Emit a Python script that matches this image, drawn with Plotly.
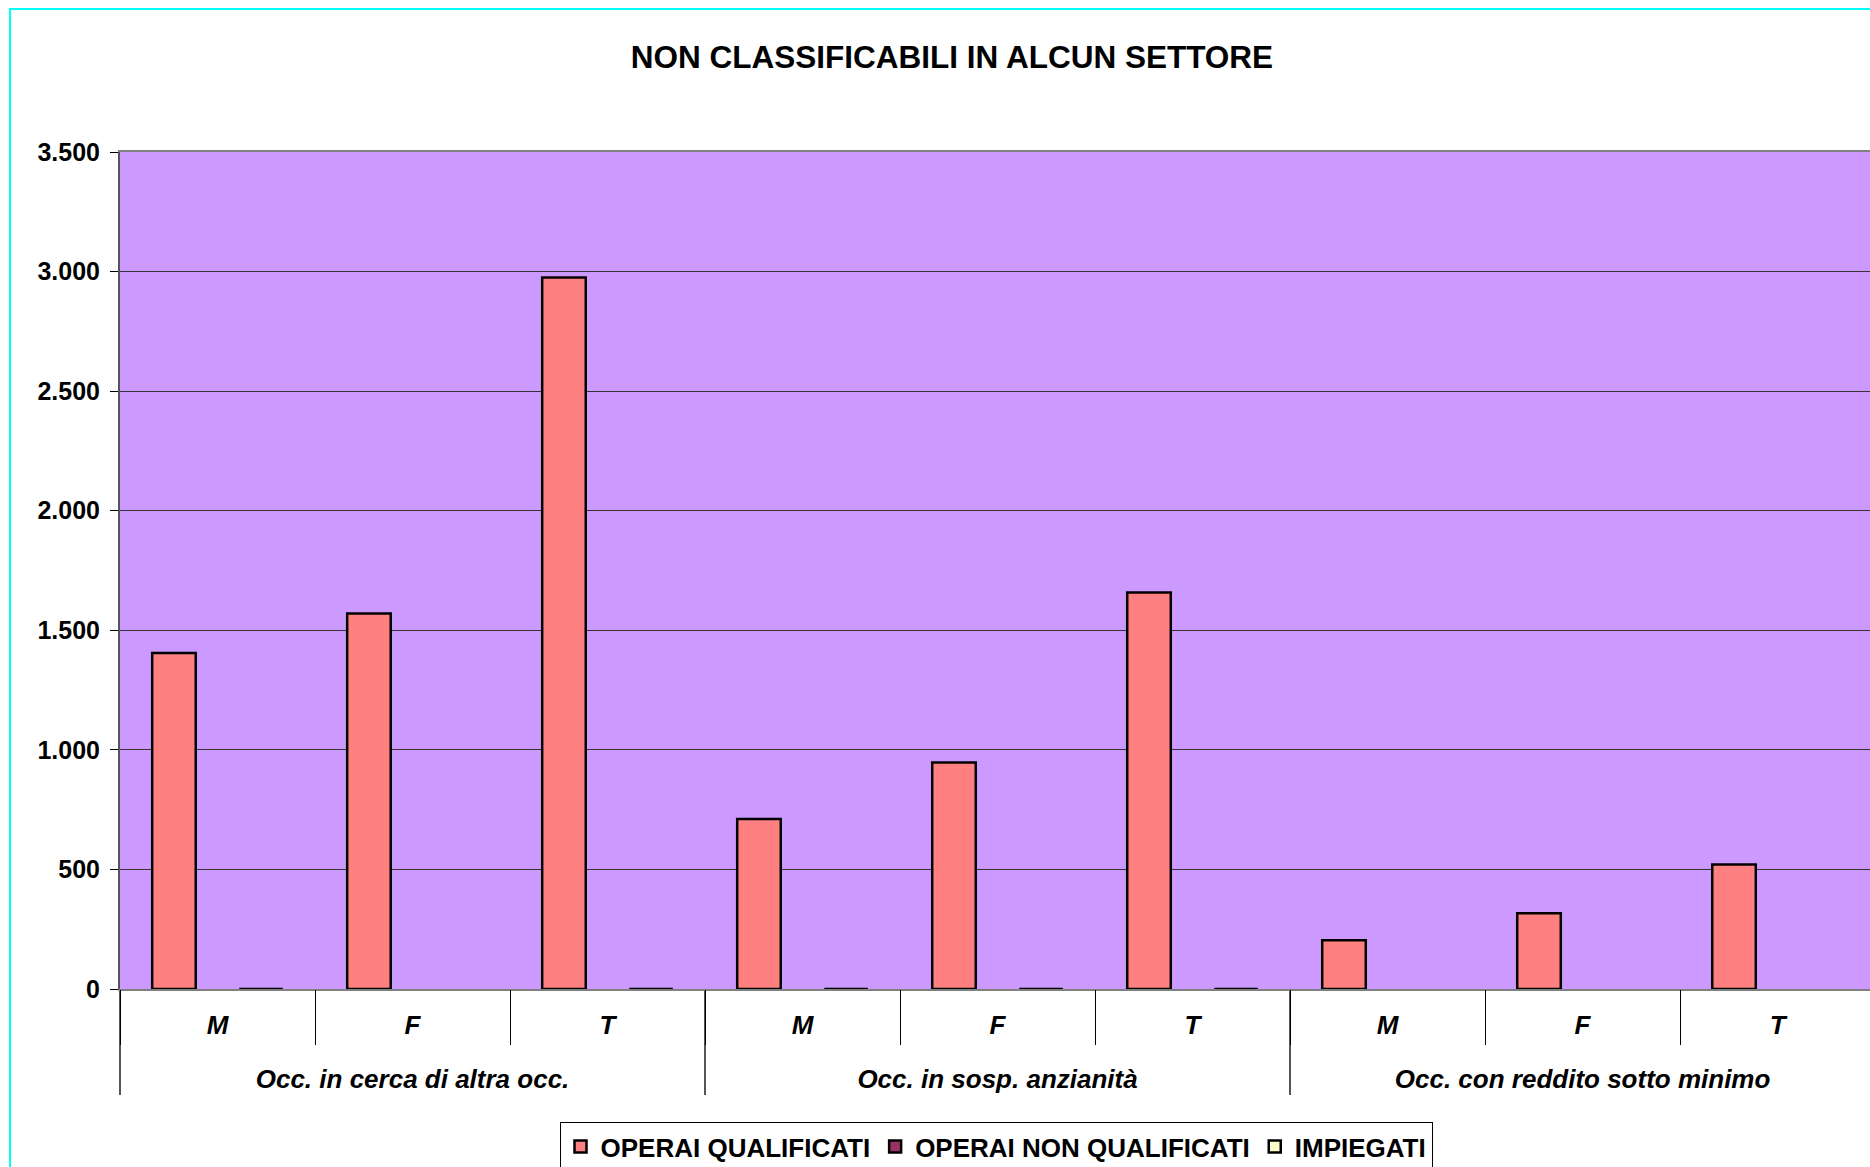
import plotly.graph_objects as go

# ---- data ----
groups = ["Occ. in cerca di altra occ.", "Occ. in sosp. anzianità", "Occ. con reddito sotto minimo"]
sexes = ["M", "F", "T"]
outer = [g for g in groups for _ in sexes]
inner = sexes * len(groups)

series_names = ["OPERAI QUALIFICATI", "OPERAI NON QUALIFICATI", "IMPIEGATI"]
operai_qualificati = [1405, 1570, 2975, 711, 947, 1658, 204, 317, 521]
operai_non_qualificati = [None, None, None, None, None, None, None, None, None]
impiegati = [0, None, 0, 0, 0, 0, None, None, None]
series_values = [operai_qualificati, operai_non_qualificati, impiegati]
series_colors = ["#FF8080", "#993366", "#FFFFCC"]

y_ticks = [0, 500, 1000, 1500, 2000, 2500, 3000, 3500]

FONT = "Liberation Sans, Arial, sans-serif"
W, H = 1870, 1167
ML, MT, MB = 120, 152, 178
PW, PH = W - ML, H - MT - MB

# inner labels get an empty second line so the outer level sits lower
inner_lbl = [s + "<br>\u00a0" for s in inner]
xcats = [outer, inner_lbl]

fig = go.Figure()
for name, vals, col in zip(series_names, series_values, series_colors):
    fig.add_trace(go.Bar(
        x=xcats, y=vals, name=name,
        marker=dict(color=col, line=dict(color="black", width=2.5)),
    ))

# helper (invisible) trace that carries the category boundary ticks on an overlaid axis
fig.add_trace(go.Scatter(
    x=xcats, y=operai_qualificati, xaxis="x2", mode="markers",
    marker=dict(opacity=0), showlegend=False, hoverinfo="skip",
))

fig.update_layout(
    width=W, height=H, autosize=False,
    margin=dict(l=ML, r=0, t=MT, b=MB, autoexpand=False),
    paper_bgcolor="white", plot_bgcolor="#CC99FF",
    separators=",.",
    barmode="group", bargap=0.33, bargroupgap=0,
    font=dict(family=FONT, color="black"),
    title=dict(text="NON CLASSIFICABILI IN ALCUN SETTORE",
               font=dict(family=FONT, size=31.5, weight="bold", color="black"),
               x=(952 - ML) / PW, xref="paper", xanchor="center",
               y=1 - 57 / H, yref="container", yanchor="middle"),
    showlegend=True,
    legend=dict(orientation="h", x=996 / W, xanchor="center", xref="container",
                y=1 - 1122 / H, yanchor="top", yref="container",
                bgcolor="white", bordercolor="black", borderwidth=1,
                font=dict(family=FONT, size=26, weight="bold", color="black"),
                traceorder="normal", itemwidth=30),
    xaxis2=dict(type="multicategory", overlaying="x", side="bottom", range=[-0.5, 8.474],
                showline=False, showgrid=False, zeroline=False, showticklabels=False,
                ticks="outside", tickson="boundaries", ticklen=55, tickcolor="black", tickwidth=1,
                showdividers=False, automargin=False),
)

fig.layout.xaxis.update(
    type="multicategory", range=[-0.5, 8.474], automargin=False,
    showline=True, linecolor="#808080", linewidth=2, mirror=True,
    showgrid=False, zeroline=False,
    ticks="", ticklabelstandoff=12,
    showdividers=True, dividercolor="#555555", dividerwidth=1.5,
    tickfont=dict(family=FONT, size=26, weight="bold", style="italic", color="black"),
)
fig.update_yaxes(
    range=[0, 3500], tickvals=y_ticks, tickformat=",d", automargin=False,
    showline=True, linecolor="#555555", linewidth=2,
    showgrid=True, gridcolor="#333333", gridwidth=1.3, zeroline=False,
    ticks="outside", ticklen=8, tickcolor="black", tickwidth=1, ticklabelstandoff=5,
    tickfont=dict(family=FONT, size=25, weight="bold", color="black"),
)

# outer cyan frame of the chart object
fig.add_shape(type="rect", xref="paper", yref="paper",
              x0=(10 - ML) / PW, x1=1.2, y0=-0.4, y1=(MT + PH - 9) / PH,
              line=dict(color="#00FFFF", width=2), fillcolor="rgba(0,0,0,0)", layer="above")

fig.write_html("out.html", config={"displayModeBar": False},
               post_script="document.body.style.margin='0';")
